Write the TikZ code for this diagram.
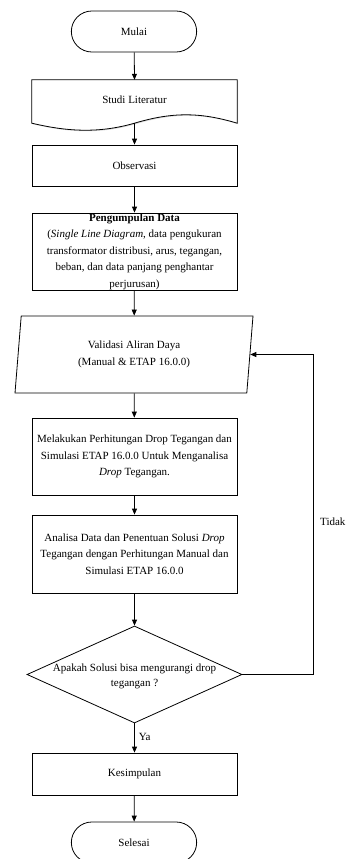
\documentclass[tikz,border=0pt]{standalone}
\usepackage{fontspec}
\setmainfont{Liberation Serif}
\usepackage{tikz}
\usetikzlibrary{shapes.geometric, shapes.misc, arrows.meta, shadows, backgrounds}

\begin{document}
\begin{tikzpicture}[
    x=1pt, y=-1pt,
    font=\fontsize{11}{16.5}\selectfont,
    terminal/.style={rounded rectangle, draw, line width=0.8pt, minimum width=132pt, minimum height=41pt, fill=white},
    bayangan/.style={drop shadow={shadow xshift=1pt, shadow yshift=-1pt, fill=black!25, opacity=0.6}},
    prosesbox/.style={rectangle, draw, line width=0.8pt, minimum width=205pt, fill=white, align=center, inner sep=0pt, bayangan},
    dokumen/.style={inner sep=0pt, minimum width=205pt, minimum height=43pt},
    iobox/.style={trapezium, trapezium left angle=76.8, trapezium right angle=103.2, trapezium stretches body,
        draw, line width=0.8pt, minimum width=238pt, minimum height=77pt, align=center, inner sep=0pt},
    decision/.style={diamond, draw, line width=0.8pt, minimum width=215pt, minimum height=97pt, inner sep=0pt},
    arrow/.style={-{Triangle[length=6pt,width=5pt]}, line width=0.8pt}
]
\useasboundingbox (0,0) rectangle (346,859);

\node[terminal] (mulai) at (134,31.5) {Mulai};
\node[dokumen] (studi) at (134.5,101.5) {\raisebox{3pt}{Studi Literatur}};
\node[prosesbox, minimum height=41pt] (obs) at (134.5,165.5) {Observasi};
\node[prosesbox, minimum height=77pt] (data) at (134.5,251.5)
    {\textbf{Pengumpulan Data}\\
     (\textit{Single Line Diagram}, data pengukuran\\
     transformator distribusi, arus, tegangan,\\
     beban, dan data panjang penghantar\\
     perjurusan)};
\node[iobox] (validasi) at (134,354.5) {Validasi Aliran Daya\\(Manual \& ETAP 16.0.0)};
\node[prosesbox, minimum height=77pt] (hitung) at (134.5,456.5)
    {Melakukan Perhitungan Drop Tegangan dan\\
     Simulasi ETAP 16.0.0 Untuk Menganalisa\\
     \textit{Drop} Tegangan.};
\node[prosesbox, minimum height=78pt] (analisa) at (134.5,554)
    {Analisa Data dan Penentuan Solusi \textit{Drop}\\
     Tegangan dengan Perhitungan Manual dan\\
     Simulasi ETAP 16.0.0};
\node[decision, label={[align=center, yshift=-2pt]center:{Apakah Solusi bisa mengurangi drop\\[-1.5pt]tegangan ?}}]
    (cek) at (134.5,674.5) {};
\node[prosesbox, minimum height=42pt] (simpul) at (134.5,774) {Kesimpulan};
\node[terminal] (selesai) at (134,842.5) {Selesai};

% document shape with wavy bottom
\begin{scope}[on background layer]
\draw[line width=0.8pt, fill=white, bayangan]
    (studi.north west) -- (studi.north east) -- (studi.south east)
    .. controls (200,112) and (172,112) .. (studi.south)
    .. controls (97,134) and (65,131) .. (studi.south west) -- cycle;
\end{scope}

\coordinate (balik) at (313,674.5);

\draw[arrow] (mulai) -- (studi.north);
\draw[arrow] (studi.south) -- (obs);
\draw[arrow] (obs) -- (data);
\draw[arrow] (data) -- (validasi);
\draw[arrow] (validasi) -- (hitung);
\draw[arrow] (hitung) -- (analisa);
\draw[arrow] (analisa) -- (cek);
\draw[arrow] (cek) -- (simpul) node[pos=0.45, anchor=west, inner sep=4pt] (ya) {Ya};
\draw[arrow] (simpul) -- (selesai);
\draw[arrow] (cek.east) -- (balik) |- (validasi.east);
\node[anchor=west, inner sep=0pt] (tidak) at (320,522) {Tidak};
\end{tikzpicture}
\end{document}
